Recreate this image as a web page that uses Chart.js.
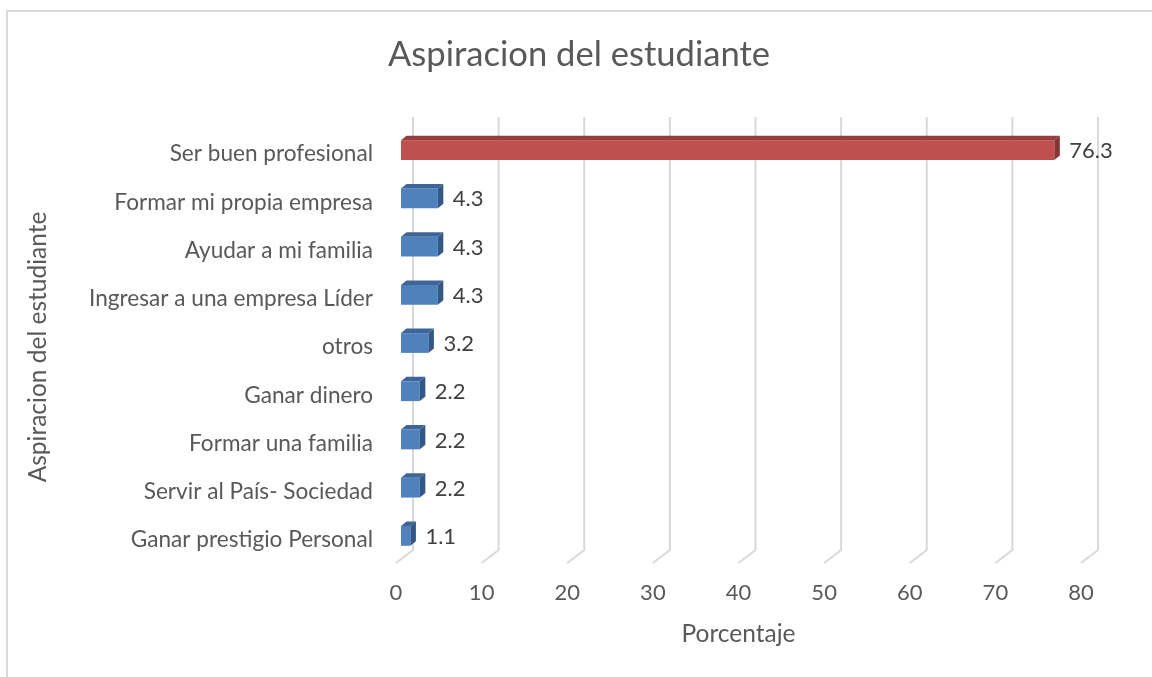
<!DOCTYPE html>
<html>
<head>
<meta charset="utf-8">
<script src="https://cdn.jsdelivr.net/npm/chart.js@4.4.1/dist/chart.umd.min.js"></script>
<style>
  html, body { margin: 0; padding: 0; background: #ffffff; overflow: hidden; }
  #wrap { position: relative; width: 1152px; height: 677px; overflow: hidden; }
  #frame { position: absolute; left: 6px; top: 10px; width: 1200px; height: 720px; border: 2px solid #d9d9d9; box-sizing: border-box; }
  canvas { position: absolute; left: 0; top: 0; }
</style>
</head>
<body>
<div id="wrap">
  <div id="frame"></div>
  <canvas id="c" width="1152" height="677"></canvas>
</div>
<script>
// ---- data ----
const categories = [
  "Ser buen profesional",
  "Formar mi propia empresa",
  "Ayudar a mi familia",
  "Ingresar a una empresa Líder",
  "otros",
  "Ganar dinero",
  "Formar una familia",
  "Servir al País- Sociedad",
  "Ganar prestigio Personal"
];
const values = [76.3, 4.3, 4.3, 4.3, 3.2, 2.2, 2.2, 2.2, 1.1];
const xTicks = [0, 10, 20, 30, 40, 50, 60, 70, 80];
const chartTitle = "Aspiracion del estudiante";
const yTitle = "Aspiracion del estudiante";
const xTitle = "Porcentaje";

// ---- styles ----
const FONT = "Lato";
const frontColors = values.map((v, i) => i === 0 ? "#C0504D" : "#4F81BD");
const topColors   = values.map((v, i) => i === 0 ? "#963D3B" : "#3D659A");
const sideColors  = values.map((v, i) => i === 0 ? "#873532" : "#335886");

const BAR_SHIFT_X = 5, BAR_SHIFT_Y = -4;   // bar plane offset from floor front
const DEPTH_X = 5.5, DEPTH_Y = -4.5;        // bar depth
const WALL_X = 17, WALL_Y = -13;            // floor depth to back wall
const GRID_TOP = 117;

const titlePlugin = {
  id: "centerTitle",
  afterDraw(chart) {
    const ctx = chart.ctx;
    ctx.save();
    ctx.fillStyle = "#595959";
    ctx.font = "34.6px " + FONT;
    ctx.textAlign = "center";
    ctx.textBaseline = "middle";
    ctx.fillText(chartTitle, 579, 55);
    ctx.restore();
  }
};

const grid3d = {
  id: "grid3d",
  beforeDatasetsDraw(chart) {
    const ctx = chart.ctx;
    const xs = chart.scales.x;
    const bottom = chart.chartArea.bottom;
    ctx.save();
    ctx.strokeStyle = "#d9d9d9";
    ctx.lineWidth = 2;
    xs.ticks.forEach(t => {
      const fx = xs.getPixelForValue(t.value);
      ctx.beginPath();
      ctx.moveTo(fx, bottom - 1);
      ctx.lineTo(fx + WALL_X, bottom - 1 + WALL_Y);
      ctx.lineTo(fx + WALL_X, GRID_TOP);
      ctx.stroke();
    });
    ctx.restore();
    ctx.save();
    ctx.translate(BAR_SHIFT_X, BAR_SHIFT_Y);
  },
  afterDatasetsDraw(chart) {
    const ctx = chart.ctx;
    const meta = chart.getDatasetMeta(0);
    meta.data.forEach((bar, i) => {
      const p = bar.getProps(["x", "y", "base", "height"], true);
      const x0 = p.base, x1 = p.x, y0 = p.y - p.height / 2, y1 = p.y + p.height / 2;
      // top face
      ctx.fillStyle = topColors[i];
      ctx.beginPath();
      ctx.moveTo(x0, y0);
      ctx.lineTo(x0 + DEPTH_X, y0 + DEPTH_Y);
      ctx.lineTo(x1 + DEPTH_X, y0 + DEPTH_Y);
      ctx.lineTo(x1, y0);
      ctx.closePath();
      ctx.fill();
      // side face
      ctx.fillStyle = sideColors[i];
      ctx.beginPath();
      ctx.moveTo(x1, y0);
      ctx.lineTo(x1 + DEPTH_X, y0 + DEPTH_Y);
      ctx.lineTo(x1 + DEPTH_X, y1 + DEPTH_Y);
      ctx.lineTo(x1, y1);
      ctx.closePath();
      ctx.fill();
      // data label
      ctx.fillStyle = "#404040";
      ctx.font = "22px " + FONT;
      ctx.textAlign = "left";
      ctx.textBaseline = "middle";
      ctx.fillText(values[i].toFixed(1), x1 + 15, p.y + 1);
    });
    ctx.restore();
  }
};

const ctx = document.getElementById("c").getContext("2d");
new Chart(ctx, {
  type: "bar",
  data: {
    labels: categories,
    datasets: [{
      data: values,
      backgroundColor: frontColors,
      borderWidth: 0,
      barPercentage: 0.41,
      categoryPercentage: 1.0
    }]
  },
  options: {
    indexAxis: "y",
    responsive: false,
    animation: false,
    events: [],
    layout: { padding: { left: 0, right: 71, top: 130, bottom: 0 } },
    plugins: {
      legend: { display: false },
      tooltip: { enabled: false },
      title: { display: false }
    },
    scales: {
      x: {
        type: "linear",
        min: 0, max: 80,
        afterBuildTicks(s) { s.ticks = xTicks.map(v => ({ value: v })); },
        afterFit(s) { s.height = 113; },
        grid: { display: false, drawTicks: false },
        border: { display: false },
        ticks: { color: "#595959", font: { family: FONT, size: 22 }, padding: 16 },
        title: {
          display: true, text: xTitle, color: "#595959",
          font: { family: FONT, size: 24.5, lineHeight: 1.2 },
          padding: { top: 0, bottom: 28 }
        }
      },
      y: {
        type: "category",
        afterFit(s) { s.width = 396; },
        grid: { display: false, drawTicks: false },
        border: { display: false },
        ticks: { color: "#595959", font: { family: FONT, size: 22.6 }, padding: 23 },
        title: {
          display: true, text: yTitle, color: "#595959",
          font: { family: FONT, size: 24.5, lineHeight: 1.2 },
          padding: { top: 23, bottom: 0 }
        }
      }
    }
  },
  plugins: [grid3d, titlePlugin]
});
</script>
</body>
</html>
